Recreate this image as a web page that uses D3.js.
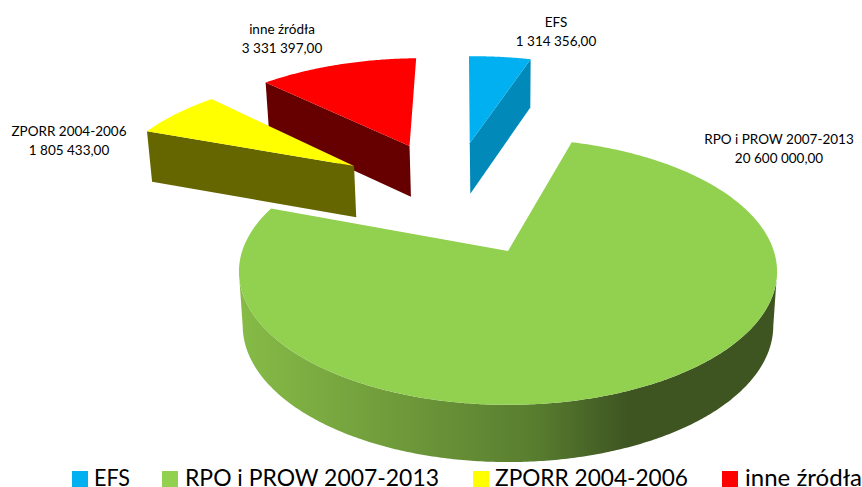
<!DOCTYPE html>
<html>
<head>
<meta charset="utf-8">
<script src="https://cdn.jsdelivr.net/npm/d3@7/dist/d3.min.js"></script>
<style>
html, body { margin: 0; padding: 0; background: #fff; overflow: hidden; }
text { font-family: Lato, "Open Sans", sans-serif; fill: #000; }
</style>
</head>
<body>
<svg></svg>
<script>
// dane
const categories = ['EFS', 'RPO i PROW 2007-2013', 'ZPORR 2004-2006', 'inne źródła'];
const values = [1314356, 20600000, 1805433, 3331397];
const valueLabels = ['1 314 356,00', '20 600 000,00', '1 805 433,00', '3 331 397,00'];

const topColors = ['#00b0f0', '#92d050', '#ffff00', '#ff0000'];
const wallColors = ['#0089b9', '#92d050', '#666600', '#660000'];

// pozycje etykiet i legendy
const labelPos = [[556, 27], [779, 144], [69, 136], [282, 34]];
const legendX = [72, 162, 473, 722];
const legendTextX = [94, 185, 495, 745];
const legendTextW = [36, 254, 193, 117];

// drobna korekta polozenia wycinkow
const sliceNudge = [[0, 0], [0, 0], [3, -1], [2, -1]];

const width = 862;
const height = 487;

// kamera: rzut perspektywiczny plaszczyzny kola
const cx = 508, cy = 251;
const R = 265.8, Q = 130, p = 0.155;
const explode = 0.505;
const depth = 53.5;
const converge = 0.014;

const project = (X, Y) => {
    const s = 1 / (1 + p * Y);
    return [cx + X * R * s, cy - Y * Q * s];
};

// dolna krawedz sciany
const drop = (X, Y) => {
    const s = 1 / (1 + p * Y);
    const [x, y] = project(X, Y);
    return [x + (cx - x) * converge, y + depth * Math.pow(s, 0.4)];
};

const svg = d3.select('svg')
    .attr('width', width)
    .attr('height', height)
    .style('display', 'block');

// gradient sciany zielonego wycinka
const grad = svg.append('defs').append('linearGradient')
    .attr('id', 'wall')
    .attr('gradientUnits', 'userSpaceOnUse')
    .attr('x1', 240).attr('x2', 778).attr('y1', 0).attr('y2', 0);
grad.selectAll('stop')
    .data([[0, '#86bb47'], [0.33, '#6c9639'], [0.55, '#587d2f'], [0.72, '#3e5522'], [1, '#3e5522']])
    .enter()
    .append('stop')
    .attr('offset', d => d[0])
    .attr('stop-color', d => d[1]);

const pie = d3.pie()
    .sort(null)
    .startAngle(-1.5 * Math.PI / 180)
    .endAngle(358.5 * Math.PI / 180);

const arcs = pie(values);
const line = d3.line();

// srodek kola tak, zeby wierzcholek zielonego byl w poczatku ukladu
const midOf = d => (d.startAngle + d.endAngle) / 2;
const greenMid = midOf(arcs[1]);
const center = [-explode * Math.sin(greenMid), -explode * Math.cos(greenMid)];

const slices = arcs.map((d, i) => {
    const m = midOf(d);
    const apex = [center[0] + explode * Math.sin(m), center[1] + explode * Math.cos(m)];
    const angles = d3.range(d.startAngle, d.endAngle, 0.01).concat(d.endAngle);
    const rim = angles.map(a => [apex[0] + Math.sin(a), apex[1] + Math.cos(a), a]);
    return { i, apex, rim };
});

const root = svg.append('g');

// kolejnosc rysowania: od tylu do przodu
[0, 3, 2, 1].forEach(i => {
    const s = slices[i];
    const g = root.append('g')
        .attr('transform', 'translate(' + sliceNudge[i][0] + ',' + sliceNudge[i][1] + ')');
    const P = project(...s.apex);
    const P2 = drop(...s.apex);
    const mid = s.rim[Math.floor(s.rim.length / 2)];
    const M = project(mid[0], mid[1]);

    // sciany promieniowe
    [s.rim[0], s.rim[s.rim.length - 1]].forEach(e => {
        const A = project(e[0], e[1]);
        const A2 = drop(e[0], e[1]);
        const cross = (A[0] - P[0]) * (M[1] - P[1]) - (A[1] - P[1]) * (M[0] - P[0]);
        const facing = cross * (A[0] - P[0]) < 0;
        if (facing && Math.abs(A[0] - P[0]) > 12) {
            g.append('path')
                .attr('d', line([P, A, A2, P2]) + 'Z')
                .attr('fill', wallColors[i]);
        }
    });

    // sciana zewnetrzna (tylko przod)
    const front = s.rim.filter(r => Math.cos(r[2]) < -p);
    if (front.length) {
        const upper = front.map(r => project(r[0], r[1]));
        const lower = front.map(r => drop(r[0], r[1])).reverse();
        g.append('path')
            .attr('d', line(upper.concat(lower)) + 'Z')
            .attr('fill', 'url(#wall)');
    }

    // wierzch
    const top = [P].concat(s.rim.map(r => project(r[0], r[1])));
    g.append('path')
        .attr('d', line(top) + 'Z')
        .attr('fill', topColors[i]);
});

// etykiety danych
const labels = svg.append('g').selectAll('text')
    .data(categories)
    .enter()
    .append('text')
    .attr('text-anchor', 'middle')
    .attr('font-size', 13.5);
labels.append('tspan')
    .attr('x', (d, i) => labelPos[i][0])
    .attr('y', (d, i) => labelPos[i][1])
    .text(d => d);
labels.append('tspan')
    .attr('x', (d, i) => labelPos[i][0])
    .attr('y', (d, i) => labelPos[i][1] + 19)
    .text((d, i) => valueLabels[i]);

// legenda
const legend = svg.append('g').selectAll('g')
    .data(categories)
    .enter()
    .append('g');
legend.append('rect')
    .attr('x', (d, i) => legendX[i])
    .attr('y', 471)
    .attr('width', 16)
    .attr('height', 16)
    .attr('fill', (d, i) => topColors[i]);
legend.append('text')
    .attr('x', (d, i) => legendTextX[i])
    .attr('y', 485.5)
    .attr('font-size', 23)
    .attr('textLength', (d, i) => legendTextW[i])
    .attr('lengthAdjust', 'spacingAndGlyphs')
    .text(d => d);
</script>
</body>
</html>
